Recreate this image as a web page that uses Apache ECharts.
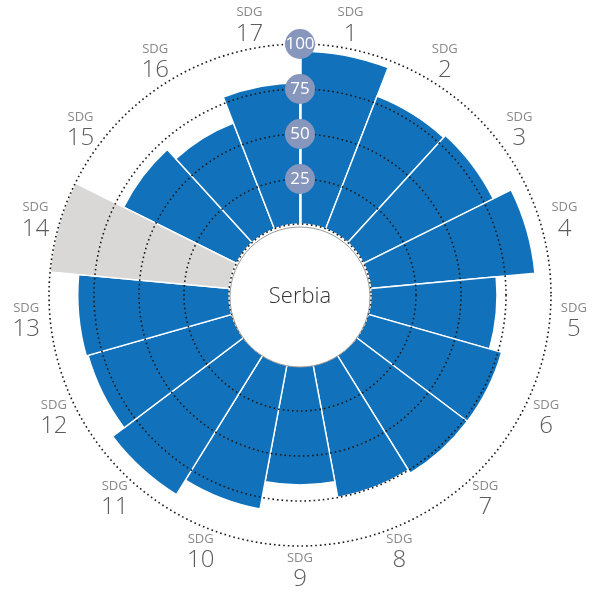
<!DOCTYPE html>
<html><head><meta charset="utf-8">
<script src="https://cdn.jsdelivr.net/npm/echarts@6/dist/echarts.min.js"></script>
<style>html,body{margin:0;padding:0;background:#fff}#c{width:598px;height:592px}</style>
</head><body><div id="c"></div>
<script>
const categories = ['1','2','3','4','5','6','7','8','9','10','11','12','13','14','15','16','17'];
const scores = [96, 79, 80.5, 91.6, 70, 77, 77, 75, 66, 81.5, 91, 83, 84, null, 70, 63, 78.5];
const noDataValue = 100;
const radiusTicks = [0, 25, 50, 75, 100];
const countryName = 'Serbia';

const FONT = '"Open Sans", "Noto Sans", sans-serif';
const chart = echarts.init(document.getElementById('c'), null, {renderer: 'canvas'});

const scoreData = scores.map(v => v === null ? '-' : v);
const missingData = scores.map(v => v === null ? noDataValue : '-');

chart.setOption({
  animation: false,
  backgroundColor: '#fff',
  polar: [
    {center: [300, 295], radius: [71, 251]},
    {center: [300, 295], radius: [0, 275]}
  ],
  angleAxis: [
    {polarIndex: 0, type: 'category', data: categories, startAngle: 90, clockwise: true,
     boundaryGap: true, axisLine: {show: false}, axisTick: {show: false},
     axisLabel: {show: false}, splitLine: {show: false}},
    {polarIndex: 1, type: 'category', data: categories, startAngle: 90, clockwise: true,
     boundaryGap: true, show: false}
  ],
  radiusAxis: [
    {polarIndex: 0, type: 'value', min: radiusTicks[0], max: radiusTicks[radiusTicks.length-1], interval: 25, z: 10,
     axisLine: {show: true, lineStyle: {color: '#ffffff', width: 2.5}},
     axisTick: {show: false},
     splitLine: {show: true, lineStyle: {color: '#1a1a1a', width: 1.6, type: [1.6, 3]}},
     axisLabel: {
       showMinLabel: false,
       margin: 0, align: 'center', verticalAlign: 'middle',
       width: 30, height: 30, lineHeight: 30, borderRadius: 15,
       backgroundColor: '#8796bd', color: '#ffffff',
       fontFamily: '"Liberation Sans Narrow", "Open Sans", sans-serif', fontSize: 17
     }},
    {polarIndex: 1, type: 'value', min: 0, max: 1, show: false}
  ],
  series: [
    {type: 'bar', coordinateSystem: 'polar', polarIndex: 0, data: scoreData,
     barCategoryGap: '0%', barGap: '-100%', z: 2,
     itemStyle: {color: '#1172bb', borderColor: '#ffffff', borderWidth: 1.4}},
    {type: 'bar', coordinateSystem: 'polar', polarIndex: 0, data: missingData,
     barCategoryGap: '0%', barGap: '-100%', z: 2,
     itemStyle: {color: '#d9d8d7', borderColor: '#ffffff', borderWidth: 1.4}},
    {type: 'scatter', coordinateSystem: 'polar', polarIndex: 1, symbolSize: 0,
     data: categories.map(c => [1, c]),
     label: {show: true, position: 'inside', align: 'center', verticalAlign: 'middle',
       formatter: p => '{a|SDG}\n{b|' + p.data[1] + '}',
       rich: {
         a: {fontFamily: FONT, fontSize: 13, fontWeight: 400, color: '#6a6a6a', lineHeight: 18, align: 'center'},
         b: {fontFamily: FONT, fontSize: 24, fontWeight: 300, color: '#333333', lineHeight: 24, align: 'center'}
       }}},
    {type: 'pie', center: [300, 297], radius: [0, 70], z: 20, silent: true,
     label: {show: true, position: 'center', formatter: countryName,
       fontFamily: FONT, fontSize: 22, fontWeight: 300, color: '#333333'},
     labelLine: {show: false},
     itemStyle: {color: '#ffffff', borderColor: '#9a9a9a', borderWidth: 1},
     data: [{value: 1, name: countryName}]}
  ]
});
</script></body></html>
